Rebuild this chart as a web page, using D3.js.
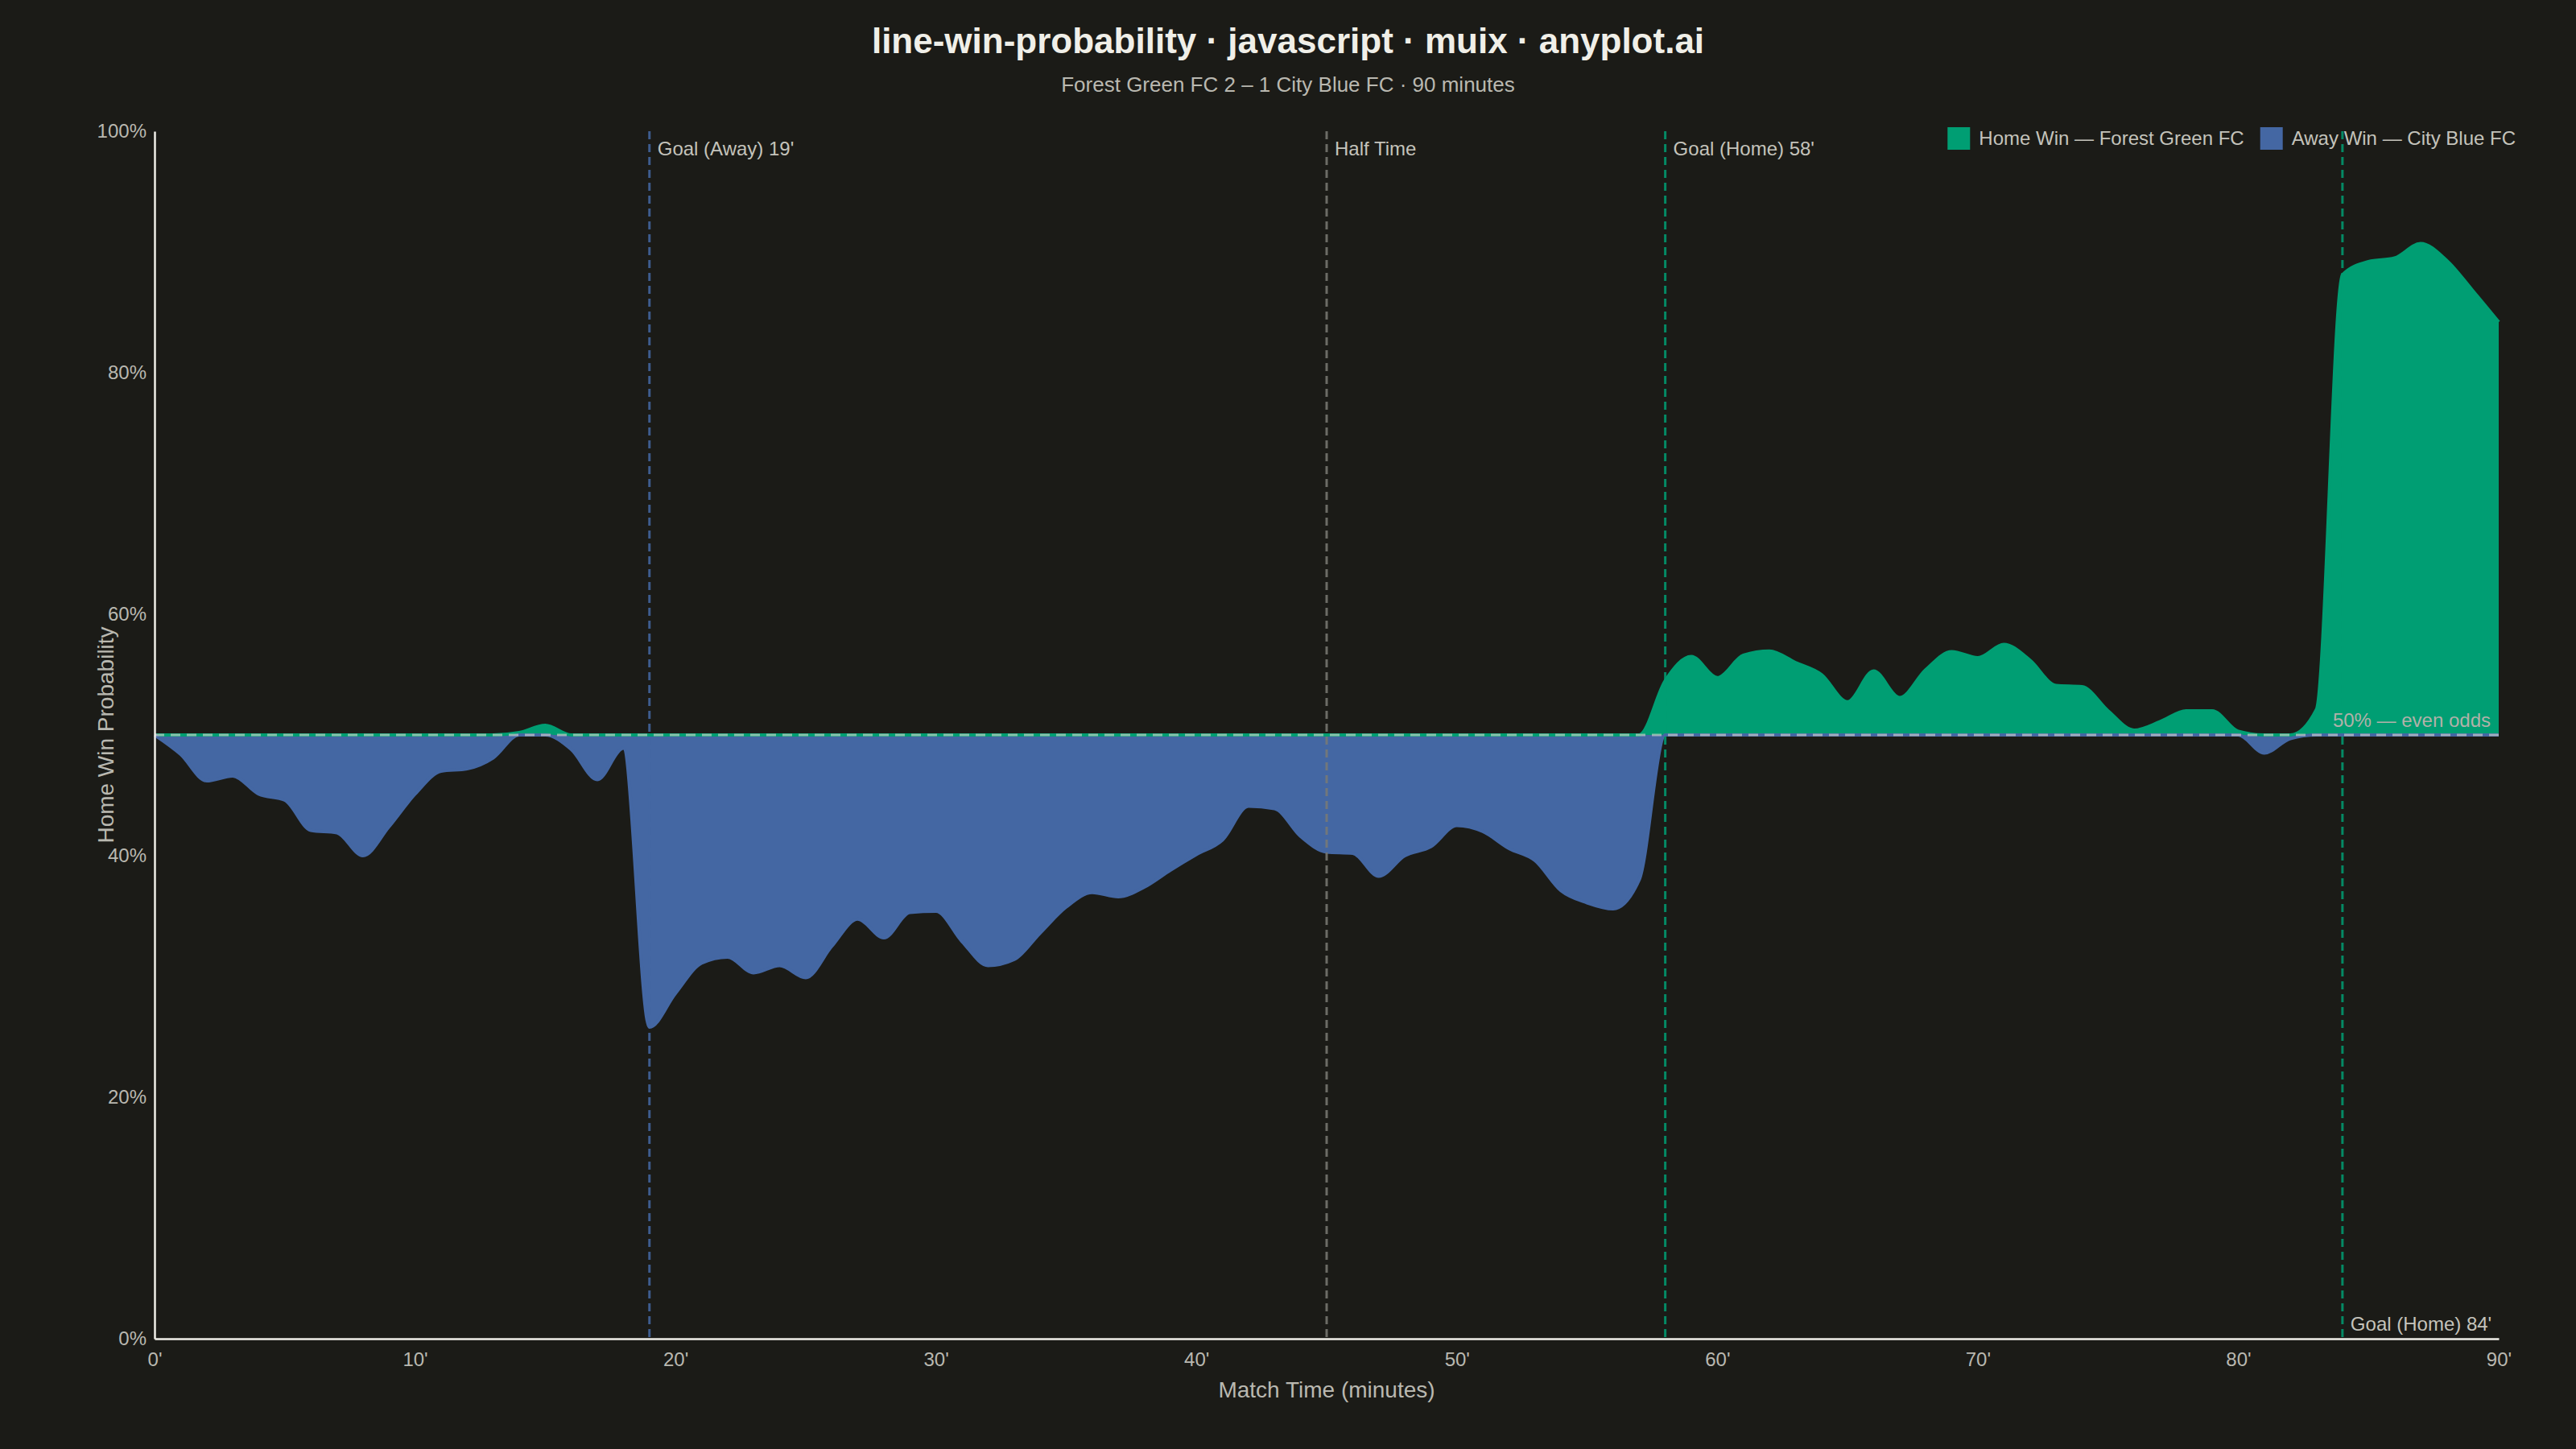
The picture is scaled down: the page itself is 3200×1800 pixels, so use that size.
<!DOCTYPE html>
<html>
<head>
<meta charset="utf-8">
<script src="https://cdn.jsdelivr.net/npm/d3@7/dist/d3.min.js"></script>
<style>
  html, body { margin: 0; padding: 0; background: #1b1b17; }
  svg { display: block; }
  text { font-family: "Liberation Sans", Arial, Helvetica, sans-serif; }
</style>
</head>
<body>
<svg id="chart" width="3200" height="1800"></svg>
<script>
// ---------------- DATA ----------------
const minutes = [0,1,2,3,4,5,6,7,8,9,10,11,12,13,14,15,16,17,18,19,20,21,22,23,24,25,26,27,28,29,30,
  31,32,33,34,35,36,37,38,39,40,41,42,43,44,45,46,47,48,49,50,51,52,53,54,55,56,57,58,59,60,
  61,62,63,64,65,66,67,68,69,70,71,72,73,74,75,76,77,78,79,80,81,82,83,84,85,86,87,88,89,90];

const homeWinProb = [
  50.0, 48.4, 46.2, 46.6, 45.1, 44.6, 42.1, 41.9, 40.0, 42.4,   // 0-9
  45.1, 47.0, 47.2, 48.1, 50.2, 50.8, 48.8, 46.3, 48.9, 25.8,   // 10-19
  28.6, 31.1, 31.6, 30.3, 30.9, 29.9, 32.5, 34.75, 33.2, 35.3,  // 20-29
  35.4, 32.9, 30.9, 31.4, 33.6, 35.75, 36.95, 36.6, 37.4, 38.8, // 30-39
  40.1, 41.3, 44.1, 43.9, 41.6, 40.3, 40.2, 38.3, 40.0, 40.75,  // 40-49
  42.5, 42.0, 40.6, 39.6, 37.1, 36.1, 35.6, 38.0, 54.5, 56.5,   // 50-59
  54.75, 56.6, 56.95, 56.0, 55.0, 52.75, 55.3, 53.1, 55.4, 56.9,// 60-69
  56.4, 57.5, 56.2, 54.1, 54.0, 52.0, 50.4, 51.1, 52.0, 52.0,   // 70-79
  50.3, 48.5, 49.7, 52.1, 88.1, 89.2, 89.5, 90.7, 89.3, 86.8,   // 80-89
  84.2                                                          // 90
];

const evenOdds = 50;
const eventMinutes = [19, 45, 58, 84];
const eventLabels  = ["Goal (Away) 19'", "Half Time", "Goal (Home) 58'", "Goal (Home) 84'"];
const eventKinds   = ["away", "half", "home", "home"];

const yTickValues = [0, 20, 40, 60, 80, 100];
const xTickValues = [0, 10, 20, 30, 40, 50, 60, 70, 80, 90];

const seriesNames = ["Home Win — Forest Green FC", "Away Win — City Blue FC"];
const titleText = "line-win-probability · javascript · muix · anyplot.ai";
const subtitleText = "Forest Green FC 2 – 1 City Blue FC · 90 minutes";
const xAxisLabel = "Match Time (minutes)";
const yAxisLabel = "Home Win Probability";
const refLabel = "50% — even odds";

// ---------------- STYLE ----------------
const GREEN = "#009E73";
const BLUE = "#4467A3";
const TEXT_MAIN = "#f0efe8";
const TEXT_SUB = "#b9b8b0";
const eventColor = { away: BLUE, half: "#7a7a74", home: GREEN };

// ---------------- LAYOUT ----------------
const svg = d3.select("#chart");
svg.append("rect").attr("width", 3200).attr("height", 1800).attr("fill", "#1b1b17");

const plot = { left: 192, right: 3104, top: 163, bottom: 1663 };
const x = d3.scaleLinear().domain([0, 90]).range([plot.left, plot.right]);
const y = d3.scaleLinear().domain([0, 100]).range([plot.bottom, plot.top]);

const data = minutes.map((m, i) => ({ m, p: homeWinProb[i] }));

// Title & subtitle
svg.append("text").attr("x", 1600).attr("y", 66).attr("text-anchor", "middle")
  .attr("font-size", 44).attr("font-weight", "bold").attr("fill", TEXT_MAIN).text(titleText);
svg.append("text").attr("x", 1600).attr("y", 114).attr("text-anchor", "middle")
  .attr("font-size", 26).attr("fill", TEXT_SUB).text(subtitleText);

// Areas
const curve = d3.curveMonotoneX;
const homeArea = d3.area().curve(curve)
  .x(d => x(d.m)).y0(y(evenOdds)).y1(d => y(Math.max(d.p, evenOdds)));
const awayArea = d3.area().curve(curve)
  .x(d => x(d.m)).y0(d => y(Math.min(d.p, evenOdds))).y1(y(evenOdds));
const homeLine = d3.line().curve(curve).x(d => x(d.m)).y(d => y(Math.max(d.p, evenOdds)));
const awayLine = d3.line().curve(curve).x(d => x(d.m)).y(d => y(Math.min(d.p, evenOdds)));

svg.append("path").datum(data).attr("d", homeArea).attr("fill", GREEN);
svg.append("path").datum(data).attr("d", awayArea).attr("fill", BLUE);
svg.append("path").datum(data).attr("d", homeLine).attr("fill", "none")
  .attr("stroke", GREEN).attr("stroke-width", 4).attr("stroke-linejoin", "round");
svg.append("path").datum(data).attr("d", awayLine).attr("fill", "none")
  .attr("stroke", BLUE).attr("stroke-width", 4).attr("stroke-linejoin", "round");

// Event lines
const evG = svg.append("g");
eventMinutes.forEach((em, i) => {
  const kind = eventKinds[i];
  evG.append("line")
    .attr("x1", x(em)).attr("x2", x(em))
    .attr("y1", y(100)).attr("y2", y(0))
    .attr("stroke", eventColor[kind]).attr("stroke-opacity", 0.85)
    .attr("stroke-width", 3).attr("stroke-dasharray", "10 6");
  const bottomLabel = (i === eventMinutes.length - 1);
  evG.append("text")
    .attr("x", x(em) + 10)
    .attr("y", bottomLabel ? y(0) - 10 : y(100) + 30)
    .attr("font-size", 24).attr("fill", "#c4c3bb")
    .text(eventLabels[i]);
});

// 50% reference line
svg.append("line")
  .attr("x1", x(0)).attr("x2", x(90))
  .attr("y1", y(evenOdds)).attr("y2", y(evenOdds))
  .attr("stroke", "#d2d2ca").attr("stroke-opacity", 0.65)
  .attr("stroke-width", 3).attr("stroke-dasharray", "12 8");
svg.append("text")
  .attr("x", x(90) - 10).attr("y", y(evenOdds) - 10)
  .attr("text-anchor", "end").attr("font-size", 24).attr("fill", "#b2b1a9")
  .text(refLabel);

// Axes
const xAxis = d3.axisBottom(x).tickValues(xTickValues).tickSize(0).tickPadding(17)
  .tickFormat(d => d + "'");
const yAxis = d3.axisLeft(y).tickValues(yTickValues).tickSize(0).tickPadding(10)
  .tickFormat(d => d + "%");

const gx = svg.append("g").attr("transform", `translate(0,${plot.bottom})`).call(xAxis);
const gy = svg.append("g").attr("transform", `translate(${plot.left},0)`).call(yAxis);
[gx, gy].forEach(g => {
  g.select(".domain").attr("stroke", TEXT_MAIN).attr("stroke-width", 2.5);
  g.selectAll("text").attr("font-size", 24).attr("fill", TEXT_SUB)
    .attr("font-family", '"Liberation Sans", Arial, sans-serif');
});
gx.selectAll("text").attr("dy", "0.71em");

svg.append("text").attr("x", (plot.left + plot.right) / 2).attr("y", 1736)
  .attr("text-anchor", "middle").attr("font-size", 28).attr("fill", TEXT_SUB).text(xAxisLabel);
svg.append("text").attr("transform", `translate(141,${(plot.top + plot.bottom) / 2}) rotate(-90)`)
  .attr("text-anchor", "middle").attr("font-size", 28).attr("fill", TEXT_SUB).text(yAxisLabel);

// Legend (right aligned)
const legend = svg.append("g");
const legendColors = [GREEN, BLUE];
const items = [];
seriesNames.forEach((name, i) => {
  const g = legend.append("g");
  g.append("rect").attr("width", 28).attr("height", 28).attr("y", 0).attr("fill", legendColors[i]);
  const t = g.append("text").attr("x", 39).attr("y", 22).attr("font-size", 24)
    .attr("fill", "#c4c3bb").text(name);
  items.push({ g, w: 39 + t.node().getComputedTextLength() });
});
let total = items.reduce((s, it) => s + it.w, 0) + 20 * (items.length - 1);
let cx = 3125 - total;
items.forEach(it => {
  it.g.attr("transform", `translate(${cx},158)`);
  cx += it.w + 20;
});
</script>
</body>
</html>
